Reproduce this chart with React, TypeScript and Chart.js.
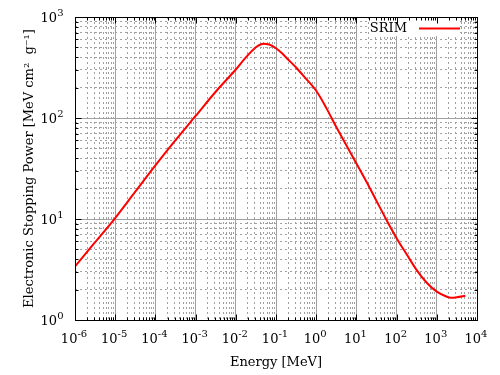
import React, { useEffect, useRef } from 'react';
import { Chart, registerables } from 'chart.js';

Chart.register(...registerables);

// Energy in MeV
const energies = [
  1e-6, 3.16e-6, 1e-5, 3.16e-5, 1e-4, 3.16e-4, 1e-3, 3.16e-3, 1e-2,
  0.0178, 0.0316, 0.0398, 0.0501, 0.0631, 0.0794, 0.1,
  0.141, 0.2, 0.316, 0.501, 1,
  1.78, 3.16, 5.62, 10,
  17.8, 31.6, 56.2, 100,
  178, 316, 562, 1000,
  1780, 2240, 3160, 5130,
];
// Electronic stopping power, MeV cm^2 g^-1
const stopping = [
  3.39, 5.89, 10.23, 18.62, 33.9, 60.3, 104.7, 182, 302,
  398, 501, 531, 543, 537, 519, 490,
  437, 380, 316, 257, 186,
  126, 81.3, 53.7, 35.5,
  23.4, 15.1, 9.77, 6.46,
  4.47, 3.12, 2.34, 1.91,
  1.7, 1.66, 1.68, 1.74,
];

const seriesLabel = 'SRIM';
const xDecades = [-6, -5, -4, -3, -2, -1, 0, 1, 2, 3, 4];
const yDecades = [0, 1, 2, 3];
const xTitle = 'Energy [MeV]';
const yTitle = 'Electronic Stopping Power [MeV cm\u00B2  g\u207B\u00B9]';

const FONT = '"DejaVu Serif", serif';

const isPow10 = (v: number) => {
  if (!(v > 0)) return false;
  const l = Math.log10(v);
  return Math.abs(l - Math.round(l)) < 1e-6;
};

const buildTicks = (decades: number[]) => (scale: any) => {
  const t: any[] = [];
  const minE = decades[0];
  const maxE = decades[decades.length - 1];
  for (let e = minE; e <= maxE; e++) {
    for (let m = 1; m <= 9; m++) {
      if (e === maxE && m > 1) break;
      t.push({ value: Number(m + 'e' + e), major: m === 1 });
    }
  }
  scale.ticks = t;
};

// draws "10" with a raised exponent for each decade tick of the scales
const tickLabelPlugin = {
  id: 'powTickLabels',
  afterDraw(chart: any) {
    const { ctx, chartArea } = chart;
    const base = '13px ' + FONT;
    const small = '10px ' + FONT;
    ctx.save();
    ctx.fillStyle = '#000';
    ctx.textBaseline = 'alphabetic';
    ctx.textAlign = 'left';
    const draw = (exp: number, mode: 'x' | 'y', pos: number) => {
      const s = String(exp);
      ctx.font = base;
      const w1 = ctx.measureText('10').width;
      ctx.font = small;
      const w2 = ctx.measureText(s).width;
      const w = w1 + w2;
      let x0: number;
      let yb: number;
      if (mode === 'x') {
        x0 = pos - w / 2 - 1;
        yb = chartArea.bottom + 23;
      } else {
        x0 = chartArea.left - 11.5 - w;
        yb = pos + 5;
      }
      ctx.font = base;
      ctx.fillText('10', x0, yb);
      ctx.font = small;
      ctx.fillText(s, x0 + w1, yb - 6);
    };
    const xs = chart.scales.x;
    xs.ticks.forEach((tk: any) => {
      if (isPow10(tk.value)) draw(Math.round(Math.log10(tk.value)), 'x', xs.getPixelForValue(tk.value));
    });
    const ys = chart.scales.y;
    ys.ticks.forEach((tk: any) => {
      if (isPow10(tk.value)) draw(Math.round(Math.log10(tk.value)), 'y', ys.getPixelForValue(tk.value));
    });
    ctx.restore();
  },
};

const framePlugin = {
  id: 'frame',
  afterDraw(chart: any) {
    const { ctx, chartArea } = chart;
    const l = Math.round(chartArea.left) + 0.5;
    const t = Math.round(chartArea.top) + 0.5;
    const r = Math.round(chartArea.right) + 0.5;
    const b = Math.round(chartArea.bottom) + 0.5;
    ctx.save();
    ctx.strokeStyle = '#000';
    ctx.lineWidth = 1;
    ctx.beginPath();
    const xs = chart.scales.x;
    xs.ticks.forEach((tk: any) => {
      const px = Math.round(xs.getPixelForValue(tk.value)) + 0.5;
      const len = isPow10(tk.value) ? 6 : 3;
      ctx.moveTo(px, b);
      ctx.lineTo(px, b - len);
      ctx.moveTo(px, t);
      ctx.lineTo(px, t + len);
    });
    const ys = chart.scales.y;
    ys.ticks.forEach((tk: any) => {
      const py = Math.round(ys.getPixelForValue(tk.value)) + 0.5;
      const len = isPow10(tk.value) ? 6 : 3;
      ctx.moveTo(l, py);
      ctx.lineTo(l + len, py);
      ctx.moveTo(r, py);
      ctx.lineTo(r - len, py);
    });
    ctx.stroke();
    ctx.strokeRect(l, t, r - l, b - t);
    ctx.restore();
  },
};

const keyPlugin = {
  id: 'insideKey',
  beforeDatasetsDraw(chart: any) {
    const { ctx, chartArea } = chart;
    const ds = chart.data.datasets[0];
    const r = chartArea.right;
    const t = chartArea.top;
    ctx.save();
    ctx.fillStyle = '#fff';
    ctx.fillRect(r - 107, t + 1, 90, 18);
    ctx.fillStyle = '#000';
    ctx.font = '13px ' + FONT;
    ctx.textAlign = 'right';
    ctx.textBaseline = 'middle';
    ctx.fillText(ds.label, r - 70, t + 12);
    ctx.strokeStyle = ds.borderColor;
    ctx.lineWidth = 2;
    ctx.beginPath();
    ctx.moveTo(r - 58, t + 11.5);
    ctx.lineTo(r - 17, t + 11.5);
    ctx.stroke();
    ctx.restore();
  },
};

export default function App() {
  const ref = useRef<HTMLCanvasElement>(null);
  useEffect(() => {
    const gridOpts = {
      color: '#a0a0a0',
      lineWidth: 1,
      drawTicks: false,
    };
    const borderOpts = {
      display: false,
      dash: (c: any) => (c.tick && !isPow10(c.tick.value) ? [2, 3] : []),
    };
    const chart = new Chart(ref.current as HTMLCanvasElement, {
      type: 'line',
      data: {
        datasets: [
          {
            label: seriesLabel,
            data: energies.map((e, i) => ({ x: e, y: stopping[i] })),
            borderColor: '#ff0000',
            backgroundColor: '#ff0000',
            borderWidth: 2,
            pointRadius: 0,
            cubicInterpolationMode: 'monotone',
            fill: false,
          },
        ],
      },
      options: {
        responsive: false,
        animation: false,
        devicePixelRatio: 1,
        layout: { padding: { top: 17, right: 23, left: 0, bottom: 0 } },
        plugins: { legend: { display: false }, tooltip: { enabled: false } },
        scales: {
          x: {
            type: 'logarithmic',
            min: Math.pow(10, xDecades[0]),
            max: Math.pow(10, xDecades[xDecades.length - 1]),
            afterBuildTicks: buildTicks(xDecades),
            afterFit: (s: any) => { s.height = 55; },
            grid: gridOpts,
            border: borderOpts,
            ticks: { display: false, autoSkip: false, maxRotation: 0 },
            title: {
              display: true,
              text: xTitle,
              color: '#000',
              font: { family: FONT, size: 13 },
              padding: { top: 0, bottom: 5 },
            },
          },
          y: {
            type: 'logarithmic',
            min: Math.pow(10, yDecades[0]),
            max: Math.pow(10, yDecades[yDecades.length - 1]),
            afterBuildTicks: buildTicks(yDecades),
            afterFit: (s: any) => { s.width = 75; },
            grid: gridOpts,
            border: borderOpts,
            ticks: { display: false, autoSkip: false },
            title: {
              display: true,
              text: yTitle,
              color: '#000',
              font: { family: FONT, size: 13 },
              padding: { top: 22, bottom: 0 },
            },
          },
        },
      } as any,
      plugins: [keyPlugin, framePlugin, tickLabelPlugin],
    });
    return () => chart.destroy();
  }, []);
  return (
    <div style={{ position: 'absolute', left: 0, top: 0, width: 500, height: 375, background: '#fff' }}>
      <canvas ref={ref} width={500} height={375} style={{ display: 'block' }} />
    </div>
  );
}
